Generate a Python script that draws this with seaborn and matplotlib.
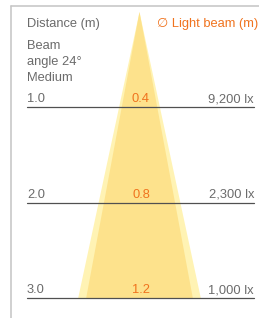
import numpy as np
import pandas as pd
import matplotlib
matplotlib.use("Agg")
import matplotlib.pyplot as plt
import seaborn as sns

# chart data
distances = [1.0, 2.0, 3.0]
distance_labels = ["1.0", "2.0", "3.0"]
beam_diameters = [0.4, 0.8, 1.2]
beam_labels = ["0.4", "0.8", "1.2"]
lux_labels = ["9,200 lx", "2,300 lx", "1,000 lx"]
beam_title = ["Beam", "angle 24°", "Medium"]

sns.set_theme(style="white")
plt.rcParams['font.family'] = ['Liberation Sans', 'DejaVu Sans']

W, H = 259, 318
GRAY = "#6b6b6b"
ORANGE = "#f0731e"

# pixel -> data helpers (x: metres around beam axis, y: distance)
PX_X0, PX_PER_M_X = 139.0, 89.0
PX_Y0, PX_PER_M_Y = 11.5, 95.5
def dx(px):
    return (px - PX_X0) / PX_PER_M_X
def dy(py):
    return (py - PX_Y0) / PX_PER_M_Y

fig = plt.figure(figsize=(W / 100, H / 100), dpi=100)
ax = fig.add_axes([0, 0, 1, 1])
ax.set_xlim(dx(0), dx(W))
ax.set_ylim(dy(H), dy(0))
ax.axis("off")

# light cone, from apex down to the last distance
d = np.array([0.0] + distances)
half = np.array([0.0] + beam_diameters) / 2
ax.fill_betweenx(d, -half * 1.15, half * 1.15, color="#fff3b4", lw=0, zorder=1)
ax.fill_betweenx(d, -half, half, color="#fde28c", lw=0, zorder=2)

# distance lines
df = pd.DataFrame({"x": [dx(27), dx(254)] * 3,
                   "y": np.repeat(distances, 2),
                   "g": np.repeat(distance_labels, 2)})
sns.lineplot(data=df, x="x", y="y", units="g", estimator=None,
             color="#505050", lw=0.9, ax=ax, zorder=3)
ax.set_xlabel("")
ax.set_ylabel("")

# frame
ax.plot([dx(11), dx(11)], [dy(6), dy(H + 2)], color="#c4c4c4", lw=1.1, zorder=0)
ax.plot([dx(11), dx(W + 2)], [dy(6), dy(6)], color="#c4c4c4", lw=1.1, zorder=0)

fs = 9.3
ax.text(dx(27), dy(27), "Distance (m)", color=GRAY, fontsize=fs, va="baseline")
ax.text(dx(258), dy(27), "∅ Light beam (m)", color=ORANGE, fontsize=fs,
        va="baseline", ha="right")
for i, t in enumerate(beam_title):
    ax.text(dx(27), dy(49 + 16 * i), t, color=GRAY, fontsize=fs, va="baseline")

for dist, dl, bl, ll in zip(distances, distance_labels, beam_labels, lux_labels):
    ax.text(dx(27), dist - 0.05, dl, color=GRAY, fontsize=fs, va="baseline")
    ax.text(dx(141), dist - 0.05, bl, color=ORANGE, fontsize=fs,
            va="baseline", ha="center", zorder=4)
    ax.text(dx(254), dist - 0.05, ll, color=GRAY, fontsize=fs,
            va="baseline", ha="right")

fig.savefig("out.png", dpi=100)
